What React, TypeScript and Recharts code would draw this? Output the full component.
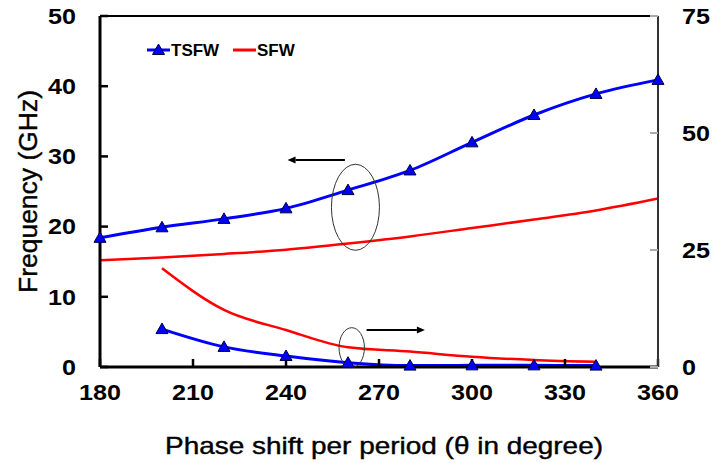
import React from 'react';
import {
  ComposedChart,
  Line,
  XAxis,
  YAxis,
  ReferenceLine,
  ReferenceDot,
  Legend,
} from 'recharts';

// ---------- data ----------
const phase = [180, 200, 220, 240, 260, 280, 300, 320, 340, 360];
// upper curves: left axis (Frequency, GHz)
const tsfwUpper = [18.4, 19.9, 21.1, 22.6, 25.2, 28.0, 32.0, 35.9, 38.9, 40.9];
const sfwUpper = [15.2, 15.6, 16.1, 16.7, 17.6, 18.6, 19.8, 21.0, 22.3, 24.0];
// lower curves: right axis
const tsfwLower = [null, 8.1, 4.3, 2.35, 0.92, 0.3, 0.35, 0.35, 0.3, null];
const sfwLower = [null, 21.1, 12.2, 7.9, 4.2, 3.3, 2.2, 1.5, 1.1, null];

const xTicks = [180, 210, 240, 270, 300, 330, 360];
const leftTicks = [0, 10, 20, 30, 40, 50];
const rightTicks = [0, 25, 50, 75];

const seriesNames = ['TSFW', 'SFW'];
const xTitle = 'Phase shift per period (\u03b8 in degree)';
const yTitle = 'Frequency (GHz)';

const data = phase.map((p, i) => ({
  phase: p,
  tsfwUpper: tsfwUpper[i],
  sfwUpper: sfwUpper[i],
  tsfwLower: tsfwLower[i],
  sfwLower: sfwLower[i],
}));

const FONT = '"Liberation Sans", Arial, sans-serif';
const BLUE = '#0000FF';
const RED = '#FF0000';
const seriesColors = [BLUE, RED];

// ---------- custom pieces ----------
const Triangle = (props: any) => {
  const { cx, cy, index } = props;
  if (cx == null || cy == null || Number.isNaN(cy)) return <g key={`t-${index}`} />;
  const pts = `${cx},${cy - 6} ${cx - 6},${cy + 4.5} ${cx + 6},${cy + 4.5}`;
  return <polygon key={`t-${index}`} points={pts} fill={BLUE} stroke="#000040" strokeWidth={1} />;
};

const tickText = (x: number, y: number, s: string, anchor: string, dy: number) => (
  <text
    x={x}
    y={y}
    dy={dy}
    textAnchor={anchor as any}
    fontSize={22}
    fontWeight="bold"
    fontFamily={FONT}
    fill="#000"
    textLength={s.length * 14}
    lengthAdjust="spacingAndGlyphs"
  >
    {s}
  </text>
);

const XTick = (props: any) => tickText(props.x, props.y, String(props.payload.value), 'middle', 15.6);
const LeftTick = (props: any) => tickText(props.x, props.y, String(props.payload.value), 'end', 7.8);
const RightTick = (props: any) => tickText(props.x, props.y, String(props.payload.value), 'start', 7.8);

const XTitle = (props: any) => {
  const vb = props.viewBox || { x: 100, y: 367, width: 558, height: 96 };
  const cx = vb.x + vb.width / 2 + 5;
  return (
    <text
      x={cx}
      y={vb.y + 87}
      textAnchor="middle"
      fontSize={24}
      fontFamily={FONT}
      fill="#000"
      stroke="#000"
      strokeWidth={0.4}
      textLength={438}
      lengthAdjust="spacingAndGlyphs"
    >
      {xTitle}
    </text>
  );
};

const YTitle = (props: any) => {
  const vb = props.viewBox || { x: 40, y: 16, width: 60, height: 351 };
  const x = vb.x - 3;
  const y = vb.y + vb.height / 2;
  return (
    <text
      x={x}
      y={y}
      transform={`rotate(-90, ${x}, ${y})`}
      textAnchor="middle"
      fontSize={26}
      fontFamily={FONT}
      fill="#000"
      stroke="#000"
      strokeWidth={0.4}
      textLength={203}
      lengthAdjust="spacingAndGlyphs"
    >
      {yTitle}
    </text>
  );
};

const renderLegend = () => {
  const offsets = [0, 86];
  return (
    <svg width={160} height={28} style={{ display: 'block', overflow: 'visible' }}>
      {seriesNames.map((name, i) => {
        const ox = offsets[i];
        return (
          <g key={name}>
            <line x1={ox + 2} y1={14} x2={ox + 25} y2={14} stroke={seriesColors[i]} strokeWidth={3} />
            {i === 0 && (
              <polygon
                points={`${ox + 13.5},${8} ${ox + 7.5},${18.5} ${ox + 19.5},${18.5}`}
                fill={BLUE}
                stroke="#000040"
                strokeWidth={1}
              />
            )}
            <text x={ox + 26} y={20.3} fontSize={17} fontWeight="bold" fontFamily={FONT} fill="#000">
              {name}
            </text>
          </g>
        );
      })}
    </svg>
  );
};

const EllipseShape = (rx: number, ry: number) => (props: any) => (
  <ellipse cx={props.cx} cy={props.cy} rx={rx} ry={ry} fill="none" stroke="#333" strokeWidth={1} />
);

const ArrowShape = (props: any) => {
  const { x1, y1, x2, y2 } = props;
  const dx = x2 - x1;
  const dy = y2 - y1;
  const len = Math.sqrt(dx * dx + dy * dy) || 1;
  const ux = dx / len;
  const uy = dy / len;
  const hl = 8;
  const hw = 3.5;
  const bx = x2 - ux * hl;
  const by = y2 - uy * hl;
  const pts = `${x2},${y2} ${bx - uy * hw},${by + ux * hw} ${bx + uy * hw},${by - ux * hw}`;
  return (
    <g>
      <line x1={x1} y1={y1} x2={bx} y2={by} stroke="#000" strokeWidth={2} />
      <polygon points={pts} fill="#000" />
    </g>
  );
};

export default function App() {
  return (
    <div style={{ position: 'absolute', left: 0, top: 0, background: '#fff' }}>
      <ComposedChart
        width={712}
        height={463}
        data={data}
        margin={{ top: 16, right: 0, bottom: 0, left: 40 }}
      >
        <XAxis
          dataKey="phase"
          type="number"
          domain={[180, 360]}
          ticks={xTicks}
          interval={0}
          height={96}
          tickSize={-8}
          tickMargin={25}
          axisLine={{ stroke: '#000', strokeWidth: 3 }}
          tickLine={{ stroke: '#000', strokeWidth: 2.5 }}
          tick={<XTick />}
          label={<XTitle />}
        />
        <YAxis
          yAxisId="left"
          orientation="left"
          domain={[0, 50]}
          ticks={leftTicks}
          interval={0}
          width={60}
          tickSize={-8}
          tickMargin={32}
          axisLine={{ stroke: '#000', strokeWidth: 3 }}
          tickLine={{ stroke: '#000', strokeWidth: 2.5 }}
          tick={<LeftTick />}
          label={<YTitle />}
        />
        <YAxis
          yAxisId="right"
          orientation="right"
          domain={[0, 75]}
          ticks={rightTicks}
          interval={0}
          width={54}
          tickSize={-8}
          tickMargin={32}
          axisLine={{ stroke: '#333', strokeWidth: 2 }}
          tickLine={{ stroke: '#aaa', strokeWidth: 2 }}
          tick={<RightTick />}
        />
        <ReferenceLine yAxisId="left" y={50} stroke="#000" strokeWidth={2} />
        <Legend
          layout="vertical"
          align="center"
          verticalAlign="middle"
          content={renderLegend}
          wrapperStyle={{ position: 'absolute', left: 145, top: 36, width: 160, height: 28 }}
        />
        <Line
          yAxisId="left"
          type="monotone"
          dataKey="sfwUpper"
          name="SFW"
          stroke={RED}
          strokeWidth={2.5}
          dot={false}
          activeDot={false}
          isAnimationActive={false}
        />
        <Line
          yAxisId="right"
          type="monotone"
          dataKey="sfwLower"
          name="SFW lower"
          legendType="none"
          stroke={RED}
          strokeWidth={2.5}
          dot={false}
          activeDot={false}
          isAnimationActive={false}
        />
        <Line
          yAxisId="left"
          type="monotone"
          dataKey="tsfwUpper"
          name="TSFW"
          stroke={BLUE}
          strokeWidth={3}
          dot={Triangle}
          activeDot={false}
          isAnimationActive={false}
        />
        <Line
          yAxisId="right"
          type="monotone"
          dataKey="tsfwLower"
          name="TSFW lower"
          legendType="none"
          stroke={BLUE}
          strokeWidth={3}
          dot={Triangle}
          activeDot={false}
          isAnimationActive={false}
        />
        <ReferenceDot yAxisId="left" x={262.4} y={22.75} r={1} shape={EllipseShape(24, 43)} />
        <ReferenceDot yAxisId="left" x={261.2} y={2.75} r={1} shape={EllipseShape(12.7, 20)} />
        <ReferenceLine
          yAxisId="left"
          segment={[{ x: 259, y: 29.5 }, { x: 240.5, y: 29.5 }]}
          shape={ArrowShape}
        />
        <ReferenceLine
          yAxisId="left"
          segment={[{ x: 266, y: 5.27 }, { x: 284.8, y: 5.27 }]}
          shape={ArrowShape}
        />
      </ComposedChart>
    </div>
  );
}
